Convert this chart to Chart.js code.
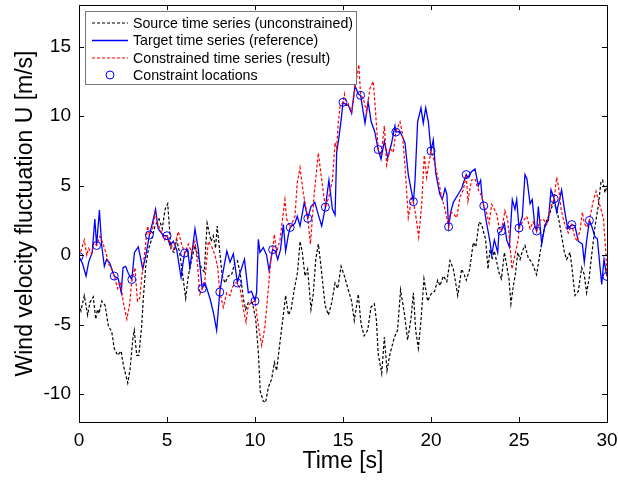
<!DOCTYPE html>
<html>
<head>
<meta charset="utf-8">
<script src="https://cdn.jsdelivr.net/npm/chart.js@4.4.0/dist/chart.umd.min.js"></script>
<style>html,body{margin:0;padding:0;background:#fff}</style>
</head>
<body>
<canvas id="stage" width="618" height="481"></canvas>
<script>
// source time series (unconstrained)
const srcT = [0,0.11,0.3,0.49,0.62,0.81,0.95,1.05,1.14,1.29,
  1.48,1.67,1.86,2.0,2.2,2.39,2.52,2.77,2.9,3.06,
  3.14,3.28,3.4,3.56,3.65,3.79,3.94,4.13,4.32,4.55,
  4.73,4.89,5.04,5.23,5.4,5.55,5.74,5.92,6.06,6.21,
  6.4,6.59,6.78,6.97,7.12,7.28,7.4,7.5,7.63,7.76,
  7.85,8.0,8.14,8.3,8.48,8.67,8.86,9.0,9.15,9.34,
  9.47,9.62,9.85,10.04,10.19,10.3,10.47,10.6,10.76,10.95,
  11.1,11.23,11.42,11.61,11.74,11.9,12.05,12.24,12.42,12.56,
  12.69,12.84,12.99,13.18,13.31,13.45,13.6,13.75,13.98,14.17,
  14.36,14.55,14.7,14.89,15.08,15.3,15.49,15.64,15.87,16.02,
  16.2,16.4,16.59,16.78,16.9,17.0,17.2,17.35,17.5,17.67,
  17.92,18.1,18.27,18.49,18.67,18.86,19.0,19.13,19.28,19.43,
  19.6,19.81,20.0,20.2,20.38,20.51,20.7,20.9,21.08,21.27,
  21.52,21.74,21.89,22.0,22.2,22.4,22.55,22.73,22.88,22.97,
  23.1,23.24,23.35,23.48,23.6,23.72,23.86,24.0,24.17,24.3,
  24.43,24.54,24.68,24.8,24.93,25.06,25.19,25.34,25.53,25.72,
  25.85,26.0,26.2,26.38,26.57,26.76,26.95,27.14,27.27,27.42,
  27.58,27.71,27.9,28.0,28.18,28.37,28.56,28.71,28.84,28.98,
  29.13,29.32,29.5,29.66,29.75,29.89,30.0];
const srcU = [-3.5,-4.0,-2.9,-4.3,-3.4,-3.0,-4.6,-3.9,-4.2,-3.3,
  -3.6,-5.1,-5.5,-6.7,-7.2,-6.9,-7.9,-9.2,-8.2,-6.0,
  -5.4,-7.2,-7.2,-5.1,-3.2,-0.8,0.4,1.15,2.1,2.6,
  1.9,3.3,3.7,0.4,0.2,1.15,0,-1.7,-3.1,-1.5,
  -0.3,0.7,-0.2,-1.0,-1.2,2.3,1.6,1.0,1.4,0.5,
  2.1,0.2,-1.5,-2.0,-1.5,-1.4,-0.5,-0.4,-1.2,-3.15,
  -3.9,-3.4,-3.4,-4.6,-7.0,-9.8,-10.5,-10.6,-9.5,-8.9,
  -7.7,-8.3,-6.25,-4.3,-2.9,-4.3,-3.9,-2.4,-1.2,1.0,
  0.2,-1.5,-1.0,-3.9,-2.8,-0.3,0.8,-0.8,-3.6,-4.3,
  -3.4,-2.0,-2.4,-0.8,-1.5,-2.5,-3.3,-4.7,-2.8,-4.9,
  -5.8,-5.4,-3.75,-3.5,-4.7,-7.1,-8.5,-5.9,-8.3,-7.1,
  -5.9,-5.4,-2.5,-4.2,-6.1,-4.6,-2.7,-5.4,-6.7,-4.7,
  -1.7,-3.3,-2.8,-2.6,-1.8,-2.2,-1.5,-1.9,-0.4,-1.0,
  -2.9,-1.0,-1.4,-1.8,-1.0,0.9,0.6,2.4,2.2,1.75,
  1.15,-1.0,0.4,-0.2,0.3,-0.4,-1.25,-1.7,0.2,-0.75,
  -1.7,-3.5,-2.2,-1.3,0.2,-0.3,0.3,0.7,-0.2,-0.5,
  -0.9,-1.4,0.2,1.6,2.5,3.05,3.8,3.3,2.5,1.4,
  0.2,-0.3,0.2,-0.8,-2.9,-2.6,-0.9,-1.4,-2.7,-1.7,
  0,2.1,3.5,5.3,5.4,4.5,5.0];

// target time series (reference)
const tgtT = [0,0.2,0.4,0.55,0.75,0.9,1.0,1.16,1.29,1.44,
  1.57,1.76,2.0,2.23,2.4,2.5,2.65,2.8,3.0,3.15,
  3.37,3.5,3.62,3.8,4.0,4.17,4.35,4.5,4.8,5.0,
  5.17,5.36,5.55,5.8,5.92,6.0,6.17,6.3,6.45,6.59,
  6.78,7.0,7.16,7.44,7.65,7.82,8.0,8.14,8.4,8.58,
  8.77,9.0,9.09,9.4,9.62,9.8,10.0,10.09,10.19,10.28,
  10.47,10.66,10.8,11.0,11.15,11.29,11.45,11.61,11.74,11.9,
  12.0,12.27,12.4,12.56,12.8,13.0,13.18,13.4,13.6,13.79,
  14.0,14.2,14.4,14.55,14.64,14.77,14.89,15.0,15.2,15.3,
  15.49,15.68,15.87,16.0,16.25,16.43,16.6,16.8,17.0,17.16,
  17.35,17.54,17.75,17.95,18.0,18.24,18.52,18.71,19.0,19.09,
  19.24,19.43,19.56,19.7,19.85,20.0,20.13,20.27,20.5,20.64,
  20.8,20.9,21.0,21.14,21.27,21.55,21.74,22.0,22.1,22.3,
  22.5,22.69,22.82,22.9,23.0,23.16,23.36,23.45,23.6,23.79,
  23.86,24.0,24.17,24.3,24.45,24.62,24.77,24.87,25.0,25.19,
  25.34,25.45,25.63,25.75,25.9,26.0,26.1,26.29,26.48,26.67,
  26.82,27.0,27.14,27.3,27.42,27.58,27.77,28.0,28.18,28.37,
  28.6,28.71,28.83,29.0,29.13,29.32,29.45,29.6,29.7,29.83,
  29.94,30.0];
const tgtU = [-0.1,-0.6,-1.5,-0.5,0.2,2.6,0.7,3.25,0.7,-0.8,
  -0.3,-0.6,-1.5,-1.7,-2.7,-0.9,-0.8,-1.3,-1.75,0.2,
  0.6,-0.2,-1.0,0.0,1.45,2.3,3.3,1.9,1.4,1.4,
  0.7,1.0,0.4,-1.6,-0.5,0.15,0.4,-0.9,0.5,1.9,
  0.4,-2.4,-2.0,-3.1,-4.2,-5.4,-2.65,-1.5,0.3,-0.5,
  0.1,-2.0,-1.5,-0.3,-2.7,-2.6,-3.3,-2.7,1.15,0.2,
  0.55,0.0,-1.1,0.4,0.3,-0.3,0.4,2.2,0.3,1.5,
  2.0,2.3,2.8,2.1,3.8,2.65,3.5,3.8,2.9,2.1,
  3.46,5.4,3.3,2.9,7.4,8.5,9.7,11.0,10.8,10.8,
  10.2,12.2,11.6,11.5,9.5,11.05,9.6,8.9,7.6,6.9,
  8.2,7.0,8.0,9.3,8.86,8.9,8.1,5.8,3.85,5.3,
  9.6,10.6,9.5,10.6,9.6,7.5,8.3,5.9,4.4,4.0,
  4.8,4.4,2.05,3.2,3.8,4.4,4.8,5.8,5.6,6.0,
  6.2,5.0,5.4,4.2,3.55,2.3,0.9,0.0,1.1,0.2,
  1.6,1.74,2.3,1.1,0.6,4.0,3.3,4.0,1.96,2.8,
  5.8,5.5,3.7,4.0,2.1,1.74,3.5,0.8,2.2,2.5,
  4.7,4.06,3.1,4.0,4.7,3.3,1.9,2.2,2.1,1.0,
  0.8,-0.5,0.9,2.5,2.1,1.3,1.2,-0.8,-2.1,-0.3,
  -1.2,-1.53];

// constrained time series (result)
const conT = [0,0.11,0.3,0.44,0.55,0.72,0.85,1.0,1.19,1.35,
  1.57,1.67,1.85,2.0,2.2,2.35,2.52,2.72,2.88,3.0,
  3.18,3.32,3.45,3.6,3.75,3.9,4.0,4.17,4.32,4.47,
  4.7,4.85,5.0,5.18,5.36,5.5,5.64,5.83,6.0,6.21,
  6.4,6.59,6.72,6.87,7.0,7.16,7.35,7.54,7.73,7.88,
  8.0,8.2,8.39,8.58,8.72,8.86,9.0,9.15,9.34,9.49,
  9.62,9.81,10.0,10.19,10.38,10.57,10.76,10.9,11.0,11.1,
  11.23,11.42,11.7,11.8,12.0,12.27,12.4,12.56,12.74,13.0,
  13.15,13.37,13.6,13.79,14.0,14.2,14.4,14.55,14.64,14.73,
  14.83,15.0,15.08,15.2,15.3,15.49,15.68,15.9,16.0,16.15,
  16.34,16.53,16.72,16.82,17.0,17.16,17.35,17.48,17.67,17.86,
  18.0,18.24,18.37,18.52,18.71,18.9,19.0,19.13,19.3,19.47,
  19.62,19.75,19.88,20.0,20.13,20.32,20.51,20.6,20.8,21.0,
  21.1,21.27,21.46,21.65,21.84,22.0,22.1,22.3,22.5,22.69,
  22.88,23.0,23.16,23.3,23.45,23.6,23.75,23.86,24.0,24.2,
  24.35,24.49,24.6,24.77,24.96,25.0,25.25,25.44,25.63,25.8,
  26.0,26.2,26.38,26.57,26.76,26.95,27.0,27.14,27.24,27.39,
  27.58,27.8,28.0,28.15,28.29,28.47,28.6,28.71,28.85,29.0,
  29.2,29.38,29.5,29.66,29.8,29.92,30.0];
const conU = [-0.1,0.3,1.1,0.0,0.5,0.1,0.9,0.7,1.35,0.9,
  0.0,-0.6,-1.0,-1.5,-2.4,-1.9,-3.4,-4.6,-3.5,-1.75,
  -0.9,-3.3,-3.1,-1.2,0.4,2.1,1.45,1.8,3.05,2.3,
  1.6,1.1,1.4,0.9,0.4,1.0,1.7,0.8,0.15,0.8,
  0.2,1.0,-0.5,-2.8,-2.4,-1.7,1.0,0.6,0.0,-0.9,
  -2.65,-3.75,-2.7,-2.9,-2.3,-2.0,-2.0,-2.4,-3.9,-4.8,
  -3.6,-3.4,-3.3,-5.1,-6.5,-5.1,-2.4,-0.3,0.4,1.5,
  0.2,1.1,4.0,2.6,2.0,2.8,5.2,6.3,4.5,2.65,
  0.8,4.5,7.35,5.4,3.46,4.2,5.4,8.1,7.7,9.5,
  10.7,11.0,11.6,10.7,10.9,10.3,12.0,13.7,11.5,11.3,
  10.3,12.0,12.5,10.8,7.6,7.2,9.3,6.5,7.7,7.4,
  8.86,9.6,8.8,6.5,2.7,4.1,3.85,2.9,1.3,3.65,
  7.2,5.6,6.6,7.5,7.0,6.0,4.8,4.2,3.3,2.05,
  3.1,3.0,2.7,4.2,4.7,5.8,3.9,5.4,5.5,4.7,
  4.25,3.55,3.05,2.3,3.65,3.3,2.9,2.0,1.74,3.2,
  2.6,0.7,-1.0,0.0,1.15,1.96,2.5,2.8,1.9,2.4,
  1.74,2.5,2.6,2.2,3.3,3.9,4.06,5.6,5.0,3.3,
  2.3,1.6,2.2,1.4,1.0,1.8,3.1,2.3,2.0,2.5,
  3.8,4.6,4.0,3.3,2.6,0.4,-1.53];

// constraint locations
const cstT = [0,1,2,3,4,5,6,7,8,9,10,11,12,13,14,15,16,17,18,19,20,21,22,23,24,25,26,27,28,29,30];
const cstU = [-0.1,0.7,-1.5,-1.75,1.45,1.4,0.15,-2.4,-2.65,-2.0,-3.3,0.4,2.0,2.65,3.46,11.0,11.5,7.6,8.86,3.85,7.5,2.05,5.8,3.55,1.74,1.96,1.74,4.06,2.2,2.5,-1.53];

const xTicks = [0, 5, 10, 15, 20, 25, 30];
const yTicks = [-10, -5, 0, 5, 10, 15];
const legendLabels = ['Source time series (unconstrained)', 'Target time series (reference)', 'Constrained time series (result)', 'Constraint locations'];

const FONT = "'Liberation Sans', Arial, sans-serif";
const pts = (t, u) => t.map((x, i) => ({x: x, y: u[i]}));

// box round the plot and inward ticks, matlab style
const frame = {
  id: 'frame',
  afterDraw(chart) {
    const ctx = chart.ctx, a = chart.chartArea;
    const xs = chart.scales.x, ys = chart.scales.y;
    ctx.save();
    ctx.strokeStyle = '#000';
    ctx.lineWidth = 1;
    ctx.strokeRect(Math.round(a.left) + 0.5, Math.round(a.top) + 0.5, Math.round(a.right - a.left), Math.round(a.bottom - a.top));
    ctx.beginPath();
    xs.ticks.forEach(t => {
      const p = Math.round(xs.getPixelForValue(t.value)) + 0.5;
      ctx.moveTo(p, a.bottom); ctx.lineTo(p, a.bottom - 5);
      ctx.moveTo(p, a.top); ctx.lineTo(p, a.top + 5);
    });
    ys.ticks.forEach(t => {
      const p = Math.round(ys.getPixelForValue(t.value)) + 0.5;
      ctx.moveTo(a.left, p); ctx.lineTo(a.left + 5, p);
      ctx.moveTo(a.right, p); ctx.lineTo(a.right - 5, p);
    });
    ctx.stroke();

    // legend box
    ctx.fillStyle = '#fff';
    ctx.fillRect(85.5, 11.5, 271, 73);
    ctx.strokeStyle = '#777';
    ctx.strokeRect(85.5, 11.5, 271, 73);
    const rows = [23, 40.5, 58, 75];
    ctx.font = '14.2px ' + FONT;
    ctx.textBaseline = 'middle';
    chart.data.datasets.forEach((ds, i) => {
      const y = rows[i];
      if (ds.showLine === false) {
        ctx.setLineDash([]);
        ctx.strokeStyle = ds.pointBorderColor;
        ctx.lineWidth = 1;
        ctx.beginPath();
        ctx.arc(110, y, 4, 0, Math.PI * 2);
        ctx.stroke();
      } else {
        ctx.setLineDash(ds.borderDash || []);
        ctx.strokeStyle = ds.borderColor;
        ctx.lineWidth = ds.borderWidth;
        ctx.beginPath();
        ctx.moveTo(92, y); ctx.lineTo(128, y);
        ctx.stroke();
      }
      ctx.setLineDash([]);
      ctx.fillStyle = '#000';
      ctx.fillText(legendLabels[i], 133, y + 1);
    });
    ctx.restore();
  }
};

new Chart(document.getElementById('stage'), {
  type: 'line',
  data: {
    datasets: [
      {data: pts(srcT, srcU), borderColor: '#000', borderWidth: 1.2, borderDash: [3, 2], pointRadius: 0, order: 3},
      {data: pts(tgtT, tgtU), borderColor: '#0000ff', borderWidth: 1.3, pointRadius: 0, order: 2},
      {data: pts(conT, conU), borderColor: '#ff0000', borderWidth: 1.2, borderDash: [3, 2], pointRadius: 0, order: 1},
      {data: pts(cstT, cstU), showLine: false, pointRadius: 4, pointBorderColor: '#0000ff', pointBackgroundColor: 'rgba(0,0,0,0)', pointBorderWidth: 1, order: 0}
    ]
  },
  options: {
    responsive: false,
    animation: false,
    devicePixelRatio: 1,
    layout: {padding: {left: 0, right: 11, top: 5, bottom: 0}},
    plugins: {legend: {display: false}, tooltip: {enabled: false}},
    elements: {line: {tension: 0}},
    scales: {
      x: {
        type: 'linear', min: 0, max: 30,
        ticks: {color: '#000', font: {family: FONT, size: 19}, padding: 7, maxRotation: 0},
        afterBuildTicks: s => { s.ticks = xTicks.map(v => ({value: v})); },
        grid: {drawOnChartArea: false, drawTicks: false},
        border: {display: false},
        title: {display: true, text: 'Time [s]', color: '#000', font: {family: FONT, size: 23}, padding: {top: 0, bottom: 6}},
        afterFit: s => { s.height = 59; s.paddingLeft = 0; s.paddingRight = 0; }
      },
      y: {
        type: 'linear', min: -12, max: 18,
        ticks: {color: '#000', font: {family: FONT, size: 19}, padding: 8},
        afterBuildTicks: s => { s.ticks = yTicks.map(v => ({value: v})); },
        grid: {drawOnChartArea: false, drawTicks: false},
        border: {display: false},
        title: {display: true, text: 'Wind velocity fluctuation U [m/s]', color: '#000', font: {family: FONT, size: 23}, padding: {top: 12, bottom: 0}},
        afterFit: s => { s.width = 79; s.paddingTop = 0; s.paddingBottom = 0; }
      }
    }
  },
  plugins: [frame]
});
</script>
</body>
</html>
